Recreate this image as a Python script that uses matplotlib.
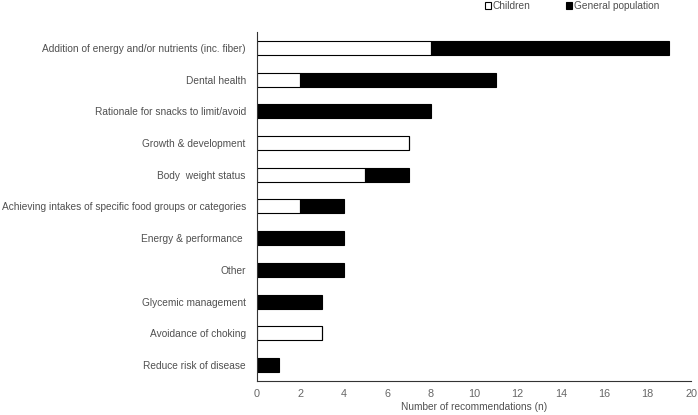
import matplotlib.pyplot as plt
import numpy as np

plt.rcParams['font.family'] = ['Liberation Sans', 'DejaVu Sans']

categories = [
    "Addition of energy and/or nutrients (inc. fiber)",
    "Dental health",
    "Rationale for snacks to limit/avoid",
    "Growth & development",
    "Body  weight status",
    "Achieving intakes of specific food groups or categories",
    "Energy & performance ",
    "Other",
    "Glycemic management",
    "Avoidance of choking",
    "Reduce risk of disease",
]
children = [8, 2, 0, 7, 5, 2, 0, 0, 0, 3, 0]
general = [11, 9, 8, 0, 2, 2, 4, 4, 3, 0, 1]

grey = '#505050'

fig = plt.figure(figsize=(6.98, 4.15), dpi=100)
ax = fig.add_axes([0.368, 0.082, 0.622, 0.841])

y = np.arange(len(categories))
ax.barh(y, children, height=0.44, color='white', edgecolor='black', linewidth=0.8, label='Children')
ax.barh(y, general, left=children, height=0.44, color='black', edgecolor='black', linewidth=0.8,
        label='General population')

ax.set_ylim(len(categories) - 0.5, -0.5)
ax.set_xlim(0, 20)
ax.set_xticks(np.arange(0, 21, 2))
ax.set_yticks(y)
ax.set_yticklabels(categories)
ax.tick_params(length=0, labelsize=7.3, labelcolor=grey, pad=8)
ax.tick_params(axis='x', pad=6, labelsize=7.8, labelcolor='#666666')
ax.set_xlabel('Number of recommendations (n)', fontsize=7.3, color=grey, labelpad=2)

for s in ['top', 'right']:
    ax.spines[s].set_visible(False)
for s in ['left', 'bottom']:
    ax.spines[s].set_color('#333333')
    ax.spines[s].set_linewidth(0.8)

fig.legend(loc='upper right', bbox_to_anchor=(0.946, 1.0), ncol=2, frameon=False, fontsize=7.3,
           labelcolor=grey, handlelength=0.6, handleheight=0.6, handletextpad=0.15,
           columnspacing=3.5, borderpad=0.1, borderaxespad=0)

fig.savefig('out.png', dpi=100)
